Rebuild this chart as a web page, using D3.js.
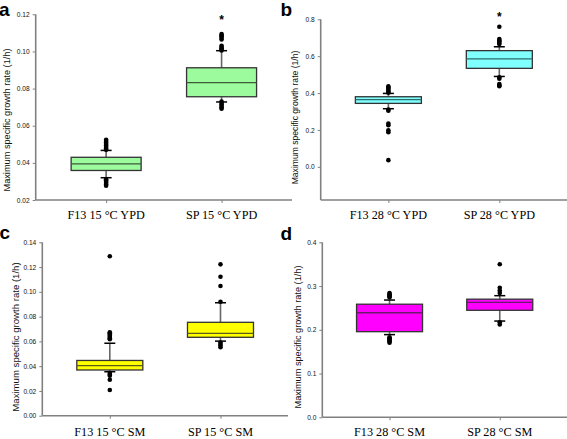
<!DOCTYPE html>
<html><head><meta charset="utf-8">
<script src="https://cdn.jsdelivr.net/npm/d3@7"></script>
<style>body{margin:0;background:#fff}svg{display:block}</style>
</head><body>
<svg id="chart" width="567" height="439"></svg>
<script>
// ---------- data ----------
const panelLetters = ["a", "b", "c", "d"];
const yTitle = "Maximum specific growth rate (1/h)";

const categoriesA = ["F13 15 °C YPD", "SP 15 °C YPD"];
const categoriesB = ["F13 28 °C YPD", "SP 28 °C YPD"];
const categoriesC = ["F13 15 °C SM", "SP 15 °C SM"];
const categoriesD = ["F13 28 °C SM", "SP 28 °C SM"];

const ticksA = [0.02, 0.04, 0.06, 0.08, 0.10, 0.12];
const ticksB = [0.0, 0.2, 0.4, 0.6, 0.8];
const ticksC = [0.00, 0.02, 0.04, 0.06, 0.08, 0.10, 0.12, 0.14];
const ticksD = [0.0, 0.1, 0.2, 0.3, 0.4];

const domainA = [0.02, 0.12];
const domainB = [-0.18, 0.8];
const domainC = [0.0, 0.14];
const domainD = [0.0, 0.4];

// box statistics per category: [F13, SP]
const q1A = [0.0359, 0.0756], medA = [0.0395, 0.0832], q3A = [0.0430, 0.0912];
const loA = [0.0320, 0.0728], hiA = [0.0467, 0.1004];
const outA = [
  [0.0470, 0.0478, 0.0486, 0.0494, 0.0502, 0.0510, 0.0518, 0.0524,
   0.0312, 0.0305, 0.0298, 0.0291, 0.0284, 0.0277],
  [0.1094, 0.1087, 0.1080, 0.1072, 0.1064, 0.1031, 0.1024, 0.1017, 0.1010, 0.1005,
   0.0730, 0.0722, 0.0714, 0.0706, 0.0698, 0.0691]
];
const starA = [null, 0.1178];

const q1B = [0.344, 0.534], medB = [0.364, 0.585], q3B = [0.380, 0.630];
const loB = [0.315, 0.490], hiB = [0.398, 0.651];
const outB = [
  [0.437, 0.430, 0.423, 0.416, 0.409, 0.402, 0.310, 0.304,
   0.235, 0.226, 0.198, 0.188, 0.036],
  [0.693, 0.686, 0.679, 0.672, 0.666, 0.760,
   0.485, 0.478, 0.449, 0.443, 0.437]
];
const starB = [null, 0.823];

const q1C = [0.0369, 0.0633], medC = [0.0405, 0.0665], q3C = [0.0446, 0.0754];
const loC = [0.0355, 0.0602], hiC = [0.0585, 0.0912];
const outC = [
  [0.0673, 0.0665, 0.0656, 0.0646, 0.0636, 0.0626, 0.0617, 0.1287,
   0.0345, 0.0332, 0.0322, 0.0290, 0.0208],
  [0.0920, 0.1047, 0.1122, 0.1222, 0.0590, 0.0578, 0.0566, 0.0553]
];
const starC = [null, null];

const q1D = [0.1957, 0.2446], medD = [0.2390, 0.2625], q3D = [0.2585, 0.2700];
const loD = [0.1890, 0.2200], hiD = [0.2680, 0.2780];
const outD = [
  [0.2840, 0.2815, 0.2790, 0.2765, 0.2740, 0.1830, 0.1805, 0.1780, 0.1755, 0.1730, 0.1705],
  [0.2960, 0.2900, 0.2840, 0.3500, 0.2170, 0.2120]
];
const starD = [null, null];

// ---------- drawing ----------
const svg = d3.select("#chart");

const panels = [
  {letter: panelLetters[0], cats: categoriesA, ticks: ticksA, domain: domainA, fmt: ".2f",
   q1: q1A, med: medA, q3: q3A, lo: loA, hi: hiA, out: outA, star: starA,
   fill: "#9cfb9c", mline: "#3b5b3b",
   x0: 35.7, x1: 292, yTop: 14.3, yBot: 200, boxW: 70, titleX: 6.5, titleY: 120, titleFs: 9.2,
   lx: -1, ly: 15.5, catY: 219},
  {letter: panelLetters[1], cats: categoriesB, ticks: ticksB, domain: domainB, fmt: ".1f",
   q1: q1B, med: medB, q3: q3B, lo: loB, hi: hiB, out: outB, star: starB,
   fill: "#80ffff", mline: "#2e6b6b",
   x0: 320.7, x1: 567, yTop: 19.3, yBot: 200, boxW: 66, titleX: 295, titleY: 117.5, titleFs: 8.6,
   lx: 280.5, ly: 15.5, catY: 219},
  {letter: panelLetters[2], cats: categoriesC, ticks: ticksC, domain: domainC, fmt: ".2f",
   q1: q1C, med: medC, q3: q3C, lo: loC, hi: hiC, out: outC, star: starC,
   fill: "#ffff00", mline: "#5b5b1a",
   x0: 42.3, x1: 288, yTop: 242.3, yBot: 415.7, boxW: 66, titleX: 15, titleY: 337, titleFs: 9.6,
   lx: -0.5, ly: 238.5, catY: 436},
  {letter: panelLetters[3], cats: categoriesD, ticks: ticksD, domain: domainD, fmt: ".1f",
   q1: q1D, med: medD, q3: q3D, lo: loD, hi: hiD, out: outD, star: starD,
   fill: "#ff00ff", mline: "#6a1a6a",
   x0: 322.3, x1: 567, yTop: 242.3, yBot: 417.3, boxW: 66, titleX: 297.5, titleY: 337, titleFs: 9.2,
   lx: 280.5, ly: 239.5, catY: 436}
];

const axisColor = "#808080";

panels.forEach(p => {
  const g = svg.append("g");
  const y = d3.scaleLinear().domain(p.domain).range([p.yBot, p.yTop]);
  const x = d3.scalePoint().domain(p.cats).range([p.x0, p.x1]).padding(0.61);

  // y axis
  const yAx = g.append("g").attr("transform", `translate(${p.x0},0)`)
    .call(d3.axisLeft(y).tickValues(p.ticks).tickFormat(d3.format(p.fmt)).tickSize(3).tickSizeOuter(0));
  yAx.select(".domain").attr("stroke", axisColor).attr("stroke-width", 1.6)
    .attr("d", `M0,${p.yBot}V${y(p.ticks[p.ticks.length-1])}`);
  yAx.selectAll(".tick line").attr("stroke", axisColor).attr("stroke-width", 1);
  yAx.selectAll(".tick text").attr("font-family", "Arial, 'Liberation Sans', sans-serif")
    .attr("font-size", 6.6).attr("fill", "#111").attr("x", -6);

  // x axis
  const xAx = g.append("g").attr("transform", `translate(0,${p.yBot})`)
    .call(d3.axisBottom(x).tickSize(3).tickSizeOuter(0).tickFormat(""));
  xAx.select(".domain").attr("stroke", axisColor).attr("stroke-width", 1.6)
    .attr("d", `M${p.x0},0H${p.x1}`);
  xAx.selectAll(".tick line").attr("stroke", axisColor).attr("stroke-width", 1);

  // category labels
  g.selectAll("text.cat").data(p.cats).enter().append("text")
    .attr("class", "cat")
    .attr("x", d => x(d)).attr("y", p.catY)
    .attr("text-anchor", "middle")
    .attr("font-family", "'Liberation Serif', 'Times New Roman', serif")
    .attr("font-size", 12.2).attr("fill", "#000")
    .text(d => d);

  // y title
  g.append("text")
    .attr("transform", `translate(${p.titleX},${p.titleY}) rotate(-90)`)
    .attr("text-anchor", "middle").attr("dominant-baseline", "central")
    .attr("font-family", "Arial, 'Liberation Sans', sans-serif")
    .attr("font-size", p.titleFs).attr("fill", "#111")
    .text(yTitle);

  // panel letter
  g.append("text").attr("x", p.lx).attr("y", p.ly)
    .attr("font-family", "Arial, 'Liberation Sans', sans-serif")
    .attr("font-weight", "bold").attr("font-size", 19).attr("fill", "#000")
    .text(p.letter);

  // boxes
  p.cats.forEach((c, i) => {
    const cx = x(c), hw = p.boxW / 2;
    // whiskers
    g.append("line").attr("x1", cx).attr("x2", cx).attr("y1", y(p.q3[i])).attr("y2", y(p.hi[i]))
      .attr("stroke", "#666").attr("stroke-width", 1.6);
    g.append("line").attr("x1", cx).attr("x2", cx).attr("y1", y(p.q1[i])).attr("y2", y(p.lo[i]))
      .attr("stroke", "#666").attr("stroke-width", 1.6);
    // box
    g.append("rect").attr("x", cx - hw).attr("width", p.boxW)
      .attr("y", y(p.q3[i])).attr("height", y(p.q1[i]) - y(p.q3[i]))
      .attr("fill", p.fill).attr("stroke", "#333").attr("stroke-width", 1.3);
    g.append("line").attr("x1", cx - hw).attr("x2", cx + hw)
      .attr("y1", y(p.med[i])).attr("y2", y(p.med[i]))
      .attr("stroke", p.mline).attr("stroke-width", 1.3);
    // outliers
    g.selectAll(null).data(p.out[i]).enter().append("circle")
      .attr("cx", cx).attr("cy", d => y(d)).attr("r", 2.3).attr("fill", "#000");
    // caps
    [p.hi[i], p.lo[i]].forEach(v => {
      g.append("line").attr("x1", cx - 5.5).attr("x2", cx + 5.5)
        .attr("y1", y(v)).attr("y2", y(v)).attr("stroke", "#000").attr("stroke-width", 1.5);
    });
    // asterisk
    if (p.star[i] != null) {
      g.append("text").attr("x", cx).attr("y", y(p.star[i]) + 5.5)
        .attr("text-anchor", "middle")
        .attr("font-family", "Arial, 'Liberation Sans', sans-serif")
        .attr("font-size", 12).attr("font-weight", "bold").attr("fill", "#000").text("*");
    }
  });
});
</script>
</body></html>
